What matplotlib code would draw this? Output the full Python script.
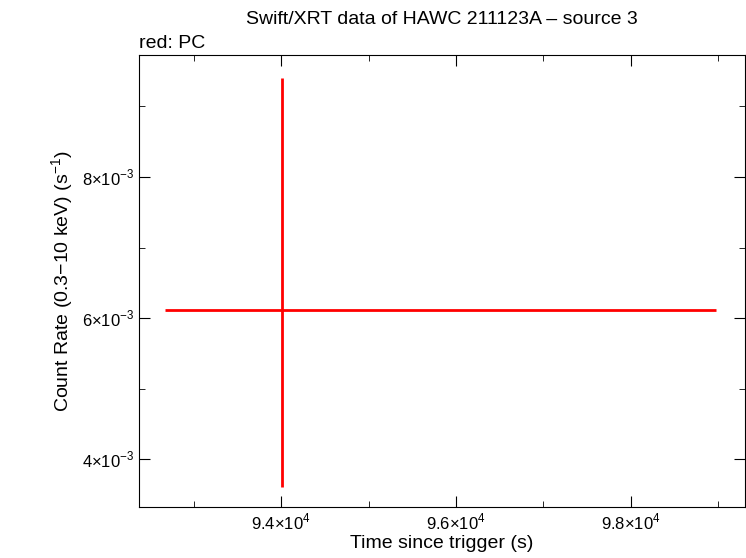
import matplotlib.pyplot as plt
from matplotlib.ticker import FixedLocator, MultipleLocator

plt.rcParams["font.family"] = ["Liberation Sans", "DejaVu Sans"]
plt.rcParams["mathtext.fontset"] = "custom"
plt.rcParams["mathtext.rm"] = "Liberation Sans"

# PC mode point with asymmetric errors
t = [94011]
t_lo = [94011 - 92674]
t_hi = [98971 - 94011]
rate = [6.11e-3]
rate_lo = [6.11e-3 - 3.60e-3]
rate_hi = [9.40e-3 - 6.11e-3]

xticks = [94000, 96000, 98000]
xlabels = [r"9.4$\times$10$^4$", r"9.6$\times$10$^4$", r"9.8$\times$10$^4$"]
yticks = [4e-3, 6e-3, 8e-3]
ylabels = [r"4$\times$10$^{-3}$", r"6$\times$10$^{-3}$", r"8$\times$10$^{-3}$"]

fig = plt.figure(figsize=(7.46, 5.58), dpi=100)
ax = fig.add_axes([139 / 746, 1 - 507 / 558, (745 - 139) / 746, (507 - 55) / 558])

ax.errorbar(t, rate, xerr=[t_lo, t_hi], yerr=[rate_lo, rate_hi],
            fmt="none", ecolor="red", elinewidth=2, capsize=0)

ax.set_xlim(92377, 99303)
ax.set_ylim(3.32e-3, 9.73e-3)
ax.xaxis.set_major_locator(FixedLocator(xticks))
ax.set_xticklabels(xlabels)
ax.xaxis.set_minor_locator(MultipleLocator(1000))
ax.yaxis.set_major_locator(FixedLocator(yticks))
ax.set_yticklabels(ylabels)
ax.yaxis.set_minor_locator(MultipleLocator(1e-3))
ax.tick_params(which="both", direction="in", top=True, right=True, labelsize=12)
ax.tick_params(which="major", length=8)
ax.tick_params(which="minor", length=4)

ax.set_xlabel("Time since trigger (s)", fontsize=14, labelpad=2)
ax.set_ylabel(r"Count Rate (0.3$-$10 keV) (s$^{-1}$)", fontsize=14)
fig.text(442 / 746, 1 - 20 / 558, "Swift/XRT data of HAWC 211123A \u2013 source 3",
         ha="center", va="center", fontsize=14)
fig.text(139 / 746, 1 - 43 / 558, "red: PC", ha="left", va="center", fontsize=14)

fig.savefig("out.png", dpi=100)
